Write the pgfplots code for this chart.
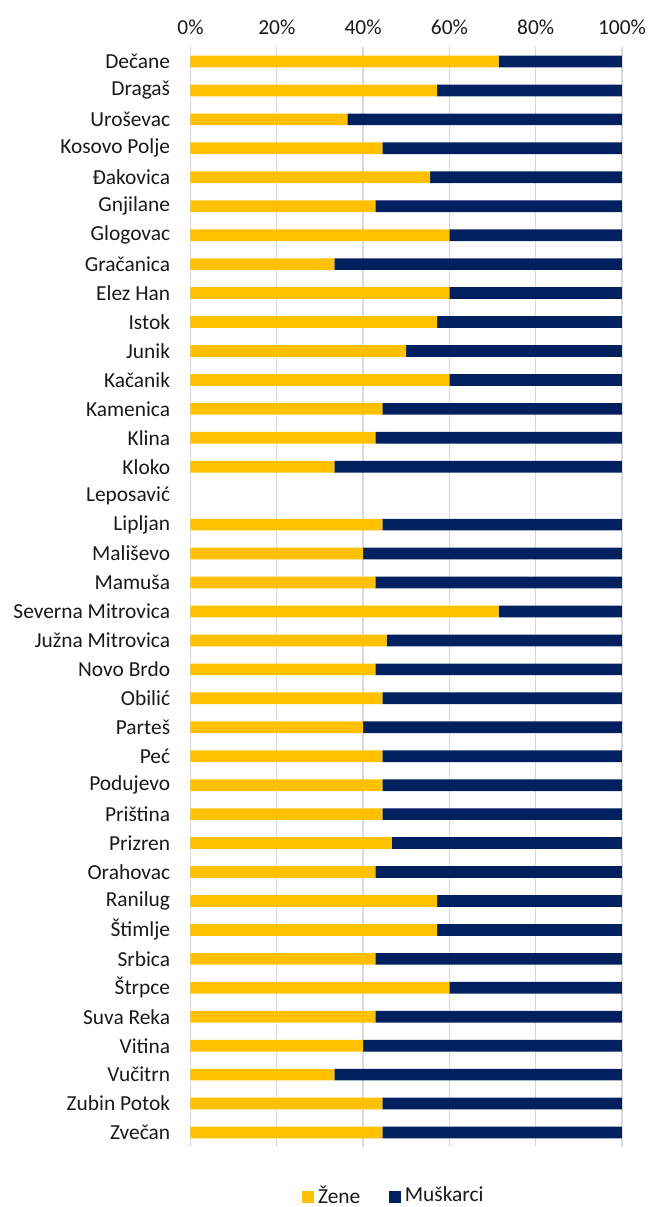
\documentclass[border=0pt]{standalone}
\usepackage{pgfplots}
\usepackage{pgfplotstable}
\pgfplotsset{compat=1.18}
\usepackage{fontspec}
\setmainfont{Carlito}

\definecolor{zene}{HTML}{FFC000}
\definecolor{muski}{HTML}{002060}
\definecolor{gridc}{HTML}{D9D9D9}

% share of women / men per municipality (Leposavic has no data)
\pgfplotstableread{
idx zene  muski
0   71.43 28.57
1   57.14 42.86
2   36.36 63.64
3   44.44 55.56
4   55.56 44.44
5   42.86 57.14
6   60.00 40.00
7   33.33 66.67
8   60.00 40.00
9   57.14 42.86
10  50.00 50.00
11  60.00 40.00
12  44.44 55.56
13  42.86 57.14
14  33.33 66.67
16  44.44 55.56
17  40.00 60.00
18  42.86 57.14
19  71.43 28.57
20  45.45 54.55
21  42.86 57.14
22  44.44 55.56
23  40.00 60.00
24  44.44 55.56
25  44.44 55.56
26  44.44 55.56
27  46.67 53.33
28  42.86 57.14
29  57.14 42.86
30  57.14 42.86
31  42.86 57.14
32  60.00 40.00
33  42.86 57.14
34  40.00 60.00
35  33.33 66.67
36  44.44 55.56
37  44.44 55.56
}\shares

\begin{document}
\begin{tikzpicture}
\begin{axis}[
   scale only axis, width=215.75pt, height=550pt,
   xbar stacked, bar width=5.85pt,
   xmin=0, xmax=100, ymin=-0.5, ymax=37.5, y dir=reverse,
   xtick={0,20,...,100},
   xticklabels={0\%,20\%,40\%,60\%,80\%,100\%},
   xticklabel pos=upper,
   ytick={0,...,37},
   yticklabels={Dečane,Dragaš,Uroševac,Kosovo Polje,Đakovica,Gnjilane,Glogovac,
      Gračanica,Elez Han,Istok,Junik,Kačanik,Kamenica,Klina,Kloko,Leposavić,
      Lipljan,Mališevo,Mamuša,Severna Mitrovica,Južna Mitrovica,Novo Brdo,
      Obilić,Parteš,Peć,Podujevo,Priština,Prizren,Orahovac,Ranilug,Štimlje,
      Srbica,Štrpce,Suva Reka,Vitina,Vučitrn,Zubin Potok,Zvečan},
   major tick length=0pt,
   axis line style={draw=none},
   xmajorgrids,
   major grid style={draw=gridc, line width=0.65pt},
   tick label style={font=\fontsize{10.7}{12}\selectfont, text=black!90, inner sep=0pt},
   xticklabel style={anchor=south, yshift=6pt},
   yticklabel style={anchor=east, xshift=-10pt},
   legend columns=2,
   legend style={at={(0.474,-0.0445)}, anchor=center, draw=none,
      font=\fontsize{10.7}{12}\selectfont, text=black!90,
      nodes={inner sep=2pt},
      /tikz/every even column/.append style={column sep=12.5pt}},
   legend image code/.code={\fill[#1] (0pt,-3.5pt) rectangle (5.8pt,2.3pt);},
]
\addplot[fill=zene, draw=none] table[x=zene, y=idx] {\shares};
\addlegendentry{Žene}
\addplot[fill=muski, draw=none] table[x=muski, y=idx] {\shares};
\addlegendentry{Muškarci}
\coordinate (sw) at (axis description cs:0,0);
\end{axis}
\pgfresetboundingbox
\path (sw) ++(-95.25pt,-30pt) rectangle ++(330pt,603.5pt);
\end{tikzpicture}
\end{document}
